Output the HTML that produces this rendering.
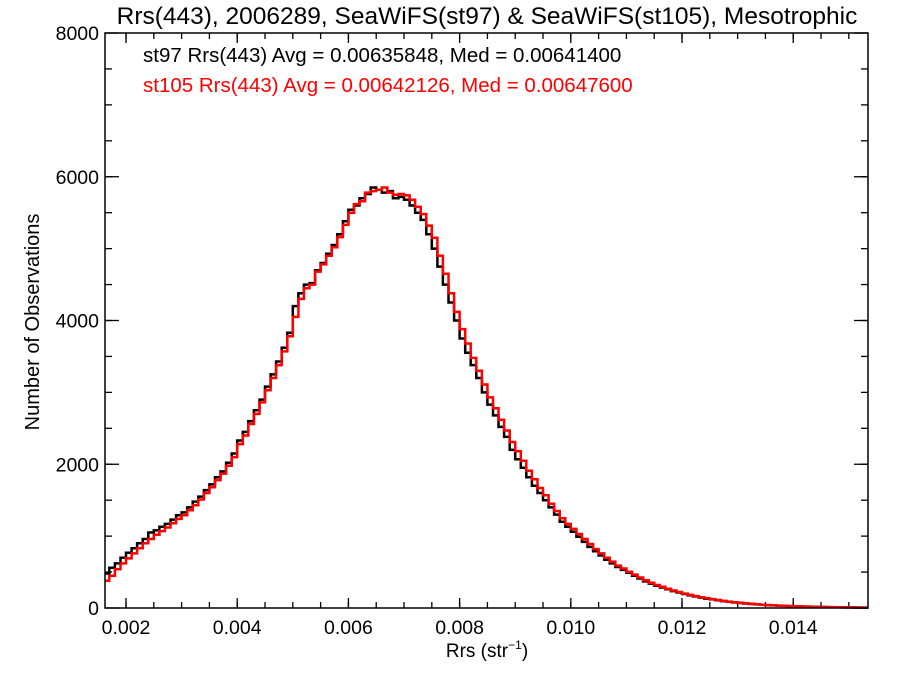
<!DOCTYPE html>
<html><head><meta charset="utf-8"><style>
body{margin:0;background:#fff}
svg text{font-family:"Liberation Sans",sans-serif}
</style></head><body>
<svg id="c" width="900" height="675" xmlns="http://www.w3.org/2000/svg">
<text x="487" y="24" font-size="24.5" text-anchor="middle">Rrs(443), 2006289, SeaWiFS(st97) &amp; SeaWiFS(st105), Mesotrophic</text>
<text x="143" y="62" font-size="20.5">st97 Rrs(443) Avg = 0.00635848, Med = 0.00641400</text>
<text x="143" y="92" font-size="20.5" fill="#ff0000">st105 Rrs(443) Avg = 0.00642126, Med = 0.00647600</text>
<text x="487" y="657" font-size="19" text-anchor="middle">Rrs (str<tspan font-size="12" dy="-8">−1</tspan><tspan dy="8">)</tspan></text>
<text transform="translate(39,322) rotate(-90)" font-size="20" text-anchor="middle">Number of Observations</text>
<g id="ax"></g>
<g id="series"></g>
<rect x="105" y="33" width="763" height="575" fill="none" stroke="#000" stroke-width="1.5"/>
</svg>
<script>
const binStart = 0.0016;
const binWidth = 0.0001;
const xTicks = [0.002,0.004,0.006,0.008,0.010,0.012,0.014];
const xTickLabels = ["0.002","0.004","0.006","0.008","0.010","0.012","0.014"];
const yTicks = [0,2000,4000,6000,8000];
const yTickLabels = ["0","2000","4000","6000","8000"];
const st97 = [480,560,620,700,770,830,900,960,1050,1080,1130,1170,1230,1290,1330,1400,1480,1550,1640,1720,1820,1900,2020,2150,2330,2450,2600,2750,2900,3080,3250,3430,3620,3830,4200,4380,4500,4520,4700,4800,4930,5050,5200,5380,5540,5600,5700,5760,5850,5820,5780,5800,5700,5720,5680,5600,5500,5400,5200,5000,4750,4500,4250,4000,3750,3550,3380,3200,3000,2830,2680,2520,2380,2200,2070,1950,1820,1700,1600,1500,1400,1300,1200,1130,1060,990,920,850,790,730,670,620,570,530,490,450,410,370,340,310,285,260,235,215,195,175,160,145,130,120,108,96,86,77,70,62,56,50,45,40,36,32,29,26,24,21,19,17,15,14,12,11,10,9,8,7,6,5];
const st105 = [380,450,540,620,690,760,830,900,960,1020,1070,1120,1180,1240,1290,1360,1430,1510,1600,1680,1780,1870,1980,2100,2280,2400,2560,2700,2860,3030,3200,3380,3570,3780,4050,4300,4450,4500,4680,4780,4900,5020,5160,5330,5500,5620,5660,5780,5800,5820,5850,5780,5750,5760,5740,5680,5580,5480,5320,5150,4900,4650,4380,4120,3880,3680,3480,3300,3110,2930,2780,2620,2470,2310,2180,2050,1910,1790,1670,1570,1450,1350,1250,1170,1100,1030,960,890,820,760,700,645,590,550,505,465,425,385,350,320,295,268,243,222,200,182,165,150,136,124,111,99,89,80,72,64,58,52,46,41,37,33,30,27,24,22,20,18,16,14,13,12,10,9,8,7,6];

const X0=105,X1=868,Y0=608,Y1=33,xmin=0.001622,xmax=0.015345,ymax=8000;
function xs(v){return X0+(v-xmin)/(xmax-xmin)*(X1-X0);}
function ys(v){return Y0-v/ymax*(Y0-Y1);}
const NS="http://www.w3.org/2000/svg";
const ax=document.getElementById('ax');
function line(x1,y1,x2,y2,name){
  const l=document.createElementNS(NS,'line');
  l.setAttribute('x1',x1);l.setAttribute('y1',y1);l.setAttribute('x2',x2);l.setAttribute('y2',y2);
  l.setAttribute('stroke','#000');l.setAttribute('stroke-width','1.3');
  
  
  ax.appendChild(l);
}
function txt(x,y,s,anchor,name){
  const t=document.createElementNS(NS,'text');
  t.setAttribute('x',x);t.setAttribute('y',y);t.setAttribute('font-size','19.5');t.setAttribute('text-anchor',anchor);
  t.textContent=s;
  
  
  ax.appendChild(t);
}
xTicks.forEach((v,i)=>{
  const x=xs(v);
  line(x,Y0,x,Y0-10,'x-major-tick');line(x,Y1,x,Y1+10,'x-major-tick-top');
  txt(x,634,xTickLabels[i],'middle','x-tick-label');
});
for(let v=0.0020;v<xmax;v+=0.0005){
  const x=xs(v);
  line(x,Y0,x,Y0-6,'x-minor-tick');line(x,Y1,x,Y1+6,'x-minor-tick-top');
}
yTicks.forEach((v,i)=>{
  const y=ys(v);
  line(X0,y,X0+14,y,'y-major-tick');line(X1,y,X1-14,y,'y-major-tick-right');
  txt(99,y+7,yTickLabels[i],'end','y-tick-label');
});
for(let v=500;v<ymax;v+=500){
  const y=ys(v);
  line(X0,y,X0+7,y,'y-minor-tick');line(X1,y,X1-7,y,'y-minor-tick-right');
}
const g=document.getElementById('series');
function step(arr,color,name){
  let d='';
  arr.forEach((v,i)=>{
    const a=xs(binStart+i*binWidth),b=xs(binStart+(i+1)*binWidth),y=ys(v);
    d+=(i===0?'M':'L')+Math.max(a,X0).toFixed(1)+','+y.toFixed(1)+'L'+Math.min(b,X1).toFixed(1)+','+y.toFixed(1);
  });
  const p=document.createElementNS(NS,'path');
  p.setAttribute('d',d);p.setAttribute('fill','none');p.setAttribute('stroke',color);p.setAttribute('stroke-width','2.5');
  
  
  g.appendChild(p);
}
step(st97,'#000','st97-histogram');
step(st105,'#ff0000','st105-histogram');
</script>
</body></html>
